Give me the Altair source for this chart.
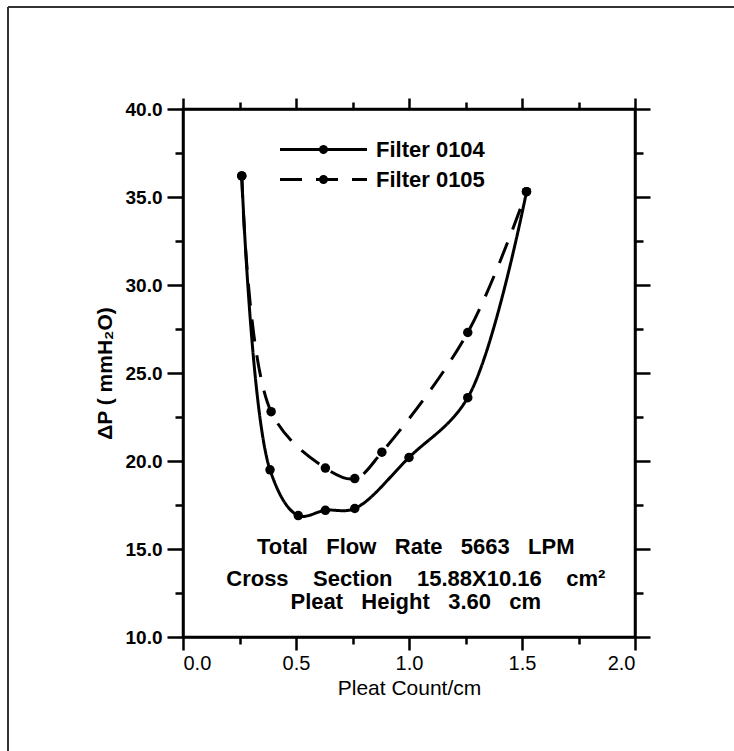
import altair as alt
import pandas as pd

# Series: pressure drop vs. pleat count for two filters
series_names = ["Filter 0104", "Filter 0105"]

pleat_0104 = [0.26, 0.385, 0.51, 0.63, 0.76, 1.00, 1.26, 1.52]
dp_0104 = [36.2, 19.5, 16.9, 17.2, 17.3, 20.2, 23.6, 35.3]

pleat_0105 = [0.26, 0.39, 0.63, 0.76, 0.88, 1.26, 1.52]
dp_0105 = [36.2, 22.8, 19.6, 19.0, 20.5, 27.3, 35.3]

# Axis tick positions (major + minor)
x_ticks = [0.0, 0.25, 0.5, 0.75, 1.0, 1.25, 1.5, 1.75, 2.0]
y_ticks = [10.0, 12.5, 15.0, 17.5, 20.0, 22.5, 25.0, 27.5, 30.0, 32.5, 35.0, 37.5, 40.0]

# Test conditions text block (non-breaking spaces keep the wide word gaps)
NB = "\u00a0"
note_lines = [f" {NB}{NB}".join(["Total", "Flow", "Rate", "5663", "LPM"]),
              f" {NB}{NB}{NB}".join(["Cross", "Section", "15.88X10.16", "cm\u00b2"]),
              f" {NB}{NB}".join(["Pleat", "Height", "3.60", "cm"])]
note_x = [1.03, 1.03, 1.03]
note_y = [15.1, 13.3, 12.0]

FONT = "Liberation Sans"

# Legend glyph: a long line segment with a marker dot in its middle
# (unit path, scaled by sqrt(symbolSize)/2)
LEGEND_GLYPH = ("M-4.35,0H4.35"
                "M0.3,0A0.3,0.3,0,1,1,-0.3,0A0.3,0.3,0,1,1,0.3,0Z")

df = pd.concat([
    pd.DataFrame({"pleat": pleat_0104, "dp": dp_0104, "series": series_names[0]}),
    pd.DataFrame({"pleat": pleat_0105, "dp": dp_0105, "series": series_names[1]}),
], ignore_index=True)

notes = pd.DataFrame({"x": note_x, "y": note_y, "text": note_lines})

x_scale = alt.Scale(domain=[0, 2], nice=False, zero=False)
y_scale = alt.Scale(domain=[10, 40], nice=False, zero=False)

x_major = "abs(datum.value*2 - round(datum.value*2)) < 0.001"
y_major = "abs(datum.value/5 - round(datum.value/5)) < 0.001"

lines = alt.Chart(df).mark_line(
    interpolate="catmull-rom", strokeWidth=3, color="black"
).encode(
    x=alt.X("pleat:Q", scale=x_scale, axis=alt.Axis(
        orient="bottom", values=x_ticks, grid=False,
        labelExpr=f"{x_major} ? format(datum.value, '.1f') : ''",
        labelOverlap=False, labelFontSize=20, labelPadding=3,
        tickSize={"condition": {"test": x_major, "value": 13}, "value": 7},
        title="Pleat Count/cm", titleFontSize=21, titleFontWeight="normal",
        titlePadding=4,
    )),
    y=alt.Y("dp:Q", scale=y_scale, axis=alt.Axis(
        orient="left", values=y_ticks, grid=False,
        labelExpr=f"{y_major} ? format(datum.value, '.1f') : ''",
        labelOverlap=False, labelFontSize=19, labelFontWeight="bold",
        labelPadding=5,
        tickSize={"condition": {"test": y_major, "value": 16}, "value": 8},
        title="\u0394P ( mmH\u2082O)", titleFontSize=21, titleFontWeight="bold",
        titlePadding=10,
    )),
    strokeDash=alt.StrokeDash("series:N", scale=alt.Scale(
        domain=series_names, range=[[1, 0], [22, 14]]),
        legend=alt.Legend(
            title=None, orient="none", legendX=129, legendY=29, padding=0,
            symbolType=LEGEND_GLYPH, symbolSize=400, symbolStrokeWidth=3,
            symbolStrokeColor="black", symbolFillColor="black",
            labelFont=FONT, labelFontSize=22,
            labelFontWeight="bold", labelColor="black", labelOffset=41,
            rowPadding=7,
        )),
)

points = alt.Chart(df).mark_circle(size=90, color="black", opacity=1).encode(
    x=alt.X("pleat:Q", scale=x_scale, axis=alt.Axis(
        orient="top", values=x_ticks, labels=False, grid=False, title=None,
        tickSize={"condition": {"test": x_major, "value": 11}, "value": 7},
    )),
    y=alt.Y("dp:Q", scale=y_scale, axis=alt.Axis(
        orient="right", values=y_ticks, labels=False, grid=False, title=None,
        tickSize={"condition": {"test": y_major, "value": 15}, "value": 8},
    )),
    detail="series:N",
)

text = alt.Chart(notes).mark_text(
    font=FONT, fontSize=22, fontWeight="bold", align="center",
    baseline="middle", color="black"
).encode(
    x=alt.X("x:Q", scale=x_scale, axis=None),
    y=alt.Y("y:Q", scale=y_scale, axis=None),
    text="text:N",
)

# Page frame (top and left edges)
frame_src = pd.DataFrame({"edge": [0]})
frame_top = alt.Chart(frame_src).mark_rule(color="#333333", strokeWidth=2).encode(
    x=alt.value(-175), x2=alt.value(551), y=alt.value(-102))
frame_left = alt.Chart(frame_src).mark_rule(color="#333333", strokeWidth=2).encode(
    x=alt.value(-175), y=alt.value(-102), y2=alt.value(642))

chart = alt.layer(lines, points, text, frame_top, frame_left).resolve_axis(
    x="independent", y="independent"
).properties(
    width=452, height=528,
    autosize=alt.AutoSizeParams(type="none"),
    padding={"left": 183, "top": 109, "right": 99, "bottom": 114},
    background="white",
).configure_axis(
    domainColor="black", domainWidth=2.5, tickColor="black", tickWidth=2.5,
    labelColor="black", titleColor="black", labelFont=FONT, titleFont=FONT,
).configure_view(
    stroke="black", strokeWidth=2.5,
)

chart.save("out.html", embed_options={"renderer": "svg", "actions": False})
